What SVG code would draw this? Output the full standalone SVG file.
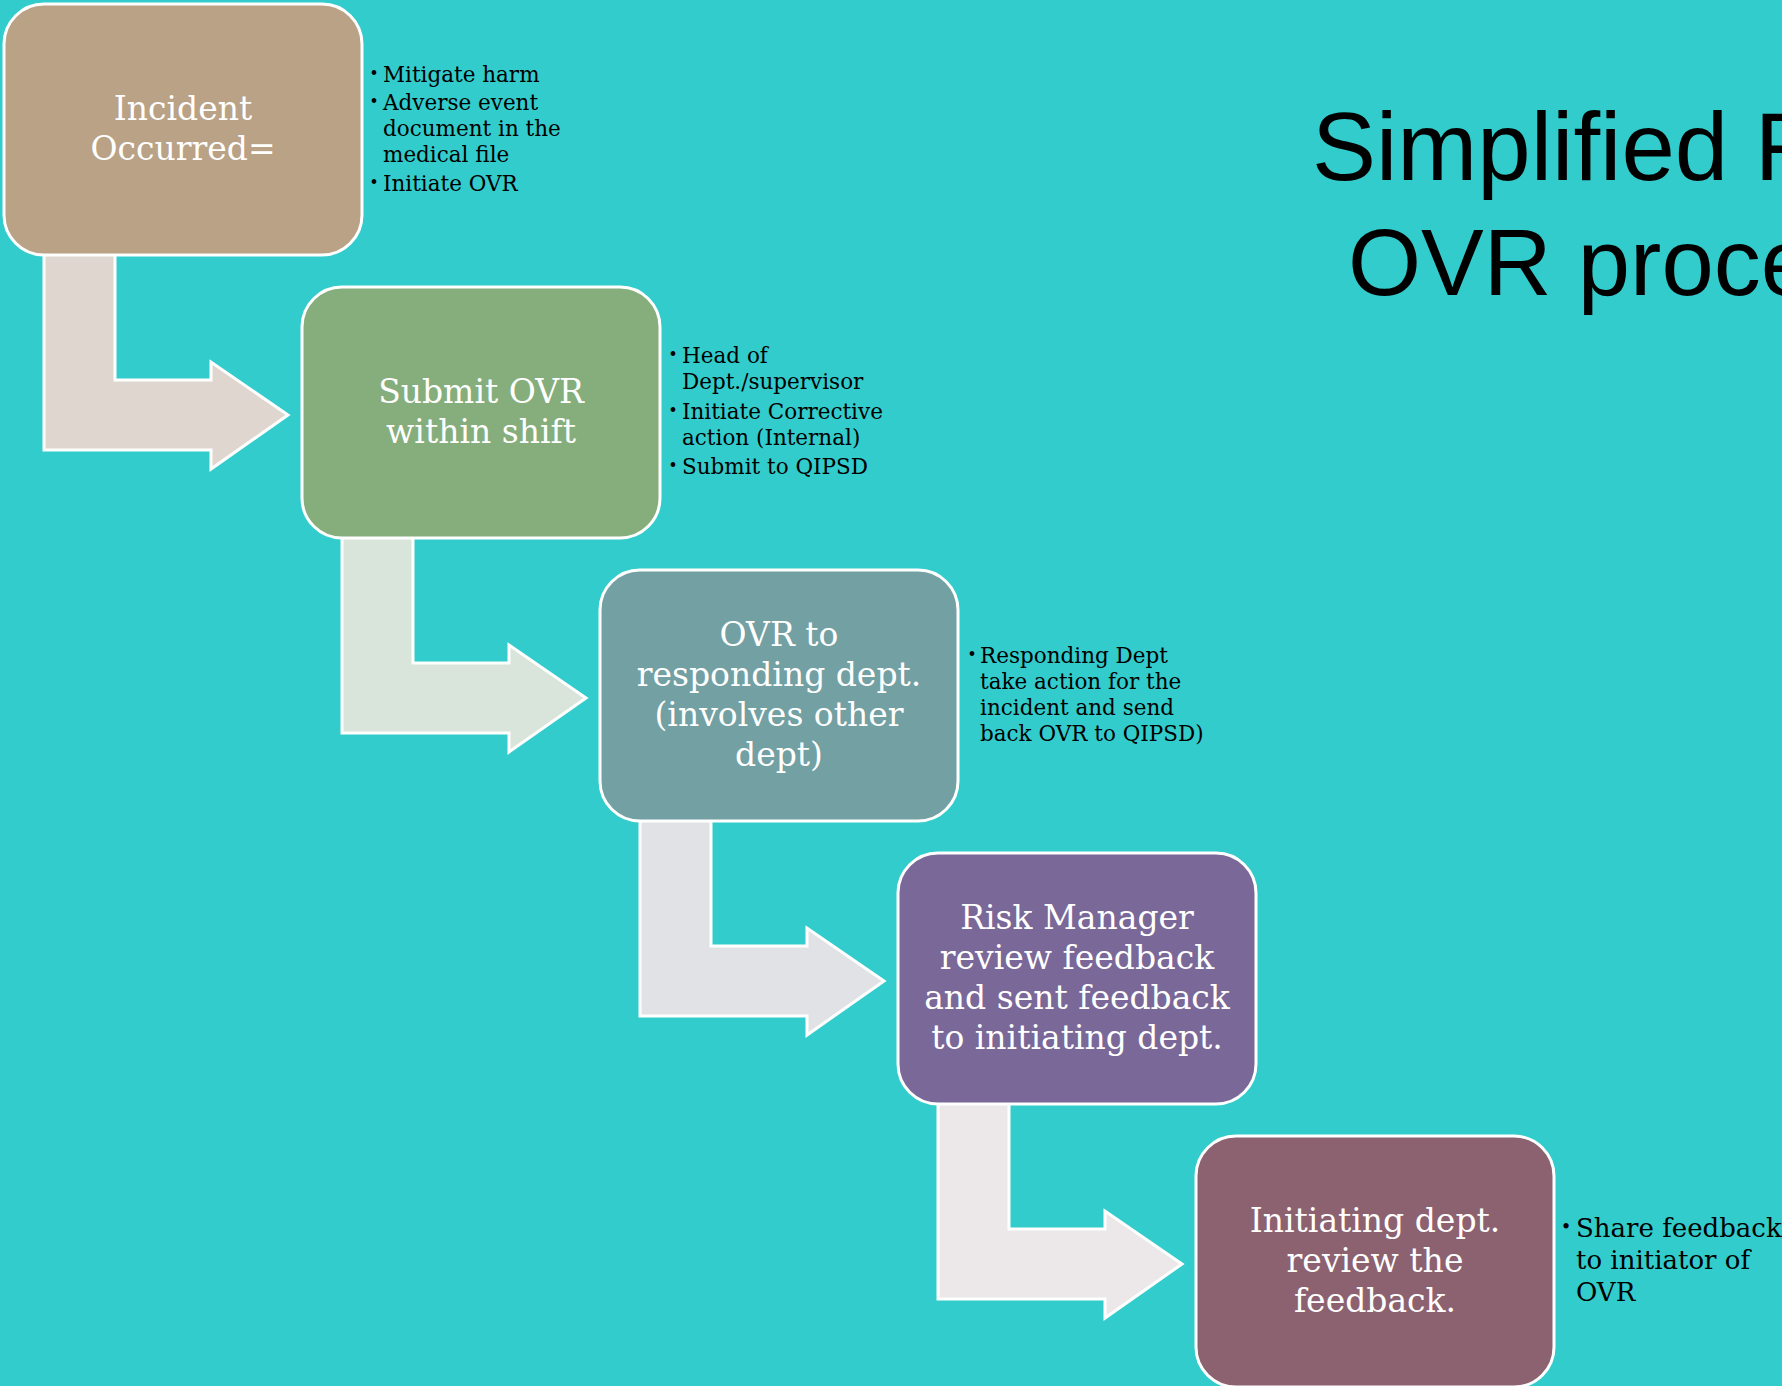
<svg xmlns="http://www.w3.org/2000/svg" width="1782" height="1386" viewBox="0 0 1782 1386">
<style>
.bg{fill:#33CCCC}
.arrow{stroke:#FFFFFF;stroke-width:3;stroke-linejoin:miter}
.box{stroke:#FFFFFF;stroke-width:3}
.bt{font-family:"DejaVu Serif","Liberation Serif",serif;font-size:33px;fill:#FFFFFF;text-anchor:middle}
.nt{font-family:"DejaVu Serif","Liberation Serif",serif;font-size:21.5px;fill:#000000}
.nt5{font-family:"DejaVu Serif","Liberation Serif",serif;font-size:26px;fill:#000000}
.bul{font-family:"DejaVu Serif","Liberation Serif",serif;font-size:16px;fill:#000000;text-anchor:middle}
.bul5{font-family:"DejaVu Serif","Liberation Serif",serif;font-size:18px;fill:#000000;text-anchor:middle}
.title{font-family:"Liberation Sans",Arial,sans-serif;fill:#000000}
</style>
<rect class="bg" x="0" y="0" width="1782" height="1386"/>

<g id="title">
<text class="title" x="1312" y="180" font-size="96">Simplified F</text>
<text class="title" x="1348" y="295" font-size="94">OVR proce</text>
</g>

<g id="connectors">
<polygon class="arrow" fill="#DFD7CF" points="44,252 115,252 115,380 211,380 211,362 288,415 211,469 211,450 44,450"/>
<polygon class="arrow" fill="#D9E4DA" points="342,535 413,535 413,663 509,663 509,645 586,698 509,752 509,733 342,733"/>
<polygon class="arrow" fill="#E0E2E6" points="640,818 711,818 711,946 807,946 807,928 884,981 807,1035 807,1016 640,1016"/>
<polygon class="arrow" fill="#ECE8E9" points="938,1101 1009,1101 1009,1229 1105,1229 1105,1211 1182,1264 1105,1318 1105,1299 938,1299"/>
</g>

<g id="node1">
<rect class="box" x="4" y="4" width="358" height="251" rx="40" fill="#B9A286"/>
<text class="bt" x="183" y="120">Incident</text>
<text class="bt" x="183" y="160">Occurred=</text>
</g>
<g id="notes1">
<text class="bul" x="374" y="78.5">•</text>
<text class="nt" x="383" y="82">Mitigate harm</text>
<text class="bul" x="374" y="106.5">•</text>
<text class="nt" x="383" y="110">Adverse event</text>
<text class="nt" x="383" y="136">document in the</text>
<text class="nt" x="383" y="162">medical file</text>
<text class="bul" x="374" y="187.5">•</text>
<text class="nt" x="383" y="191">Initiate OVR</text>
</g>

<g id="node2">
<rect class="box" x="302" y="287" width="358" height="251" rx="40" fill="#86AE7C"/>
<text class="bt" x="481" y="403">Submit OVR</text>
<text class="bt" x="481" y="443">within shift</text>
</g>
<g id="notes2">
<text class="bul" x="673" y="359.5">•</text>
<text class="nt" x="682" y="363">Head of</text>
<text class="nt" x="682" y="389">Dept./supervisor</text>
<text class="bul" x="673" y="415.5">•</text>
<text class="nt" x="682" y="419">Initiate Corrective</text>
<text class="nt" x="682" y="445">action (Internal)</text>
<text class="bul" x="673" y="470.5">•</text>
<text class="nt" x="682" y="474">Submit to QIPSD</text>
</g>

<g id="node3">
<rect class="box" x="600" y="570" width="358" height="251" rx="40" fill="#72A0A3"/>
<text class="bt" x="779" y="646">OVR to</text>
<text class="bt" x="779" y="686">responding dept.</text>
<text class="bt" x="779" y="726">(involves other</text>
<text class="bt" x="779" y="766">dept)</text>
</g>
<g id="notes3">
<text class="bul" x="972" y="659.5">•</text>
<text class="nt" x="980" y="663">Responding Dept</text>
<text class="nt" x="980" y="689">take action for the</text>
<text class="nt" x="980" y="715">incident and send</text>
<text class="nt" x="980" y="741">back OVR to QIPSD)</text>
</g>

<g id="node4">
<rect class="box" x="898" y="853" width="358" height="251" rx="40" fill="#7A6898"/>
<text class="bt" x="1077" y="929">Risk Manager</text>
<text class="bt" x="1077" y="969">review feedback</text>
<text class="bt" x="1077" y="1009">and sent feedback</text>
<text class="bt" x="1077" y="1049">to initiating dept.</text>
</g>

<g id="node5">
<rect class="box" x="1196" y="1136" width="358" height="251" rx="40" fill="#8C6270"/>
<text class="bt" x="1375" y="1232">Initiating dept.</text>
<text class="bt" x="1375" y="1272">review the</text>
<text class="bt" x="1375" y="1312">feedback.</text>
</g>
<g id="notes5">
<text class="bul5" x="1566" y="1233">•</text>
<text class="nt5" x="1576" y="1237">Share feedback</text>
<text class="nt5" x="1576" y="1269">to initiator of</text>
<text class="nt5" x="1576" y="1301">OVR</text>
</g>
</svg>
